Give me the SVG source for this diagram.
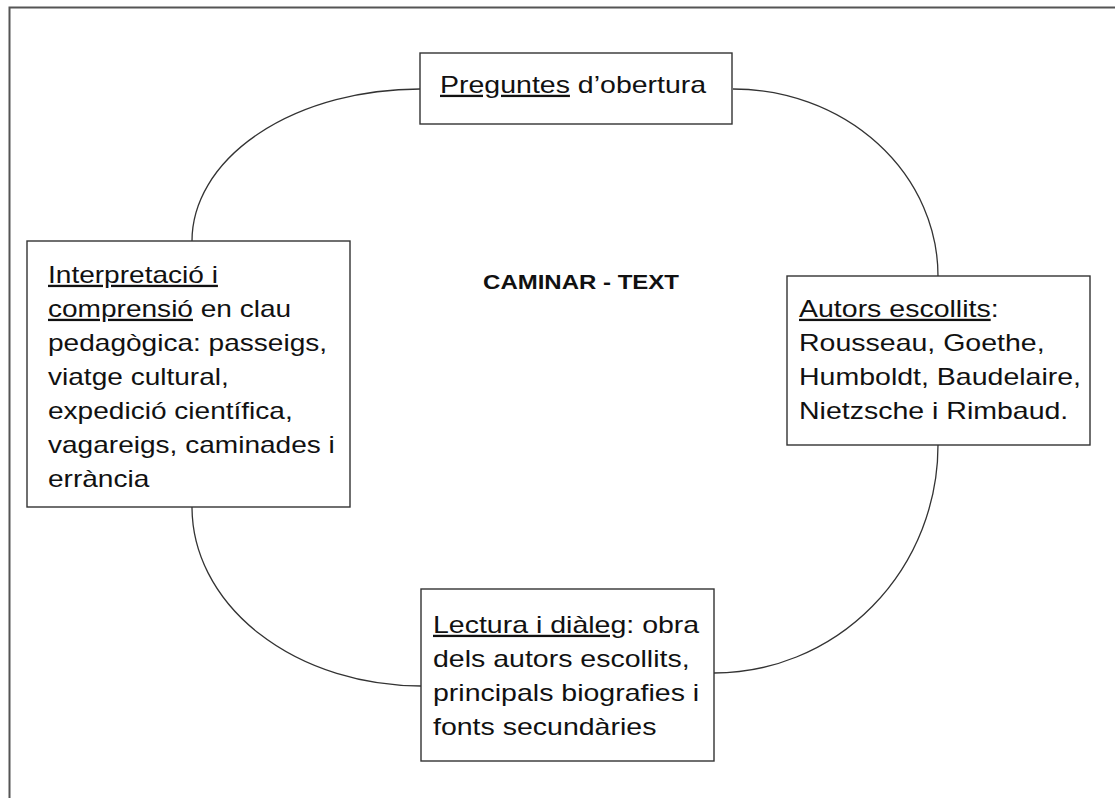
<svg xmlns="http://www.w3.org/2000/svg" width="1115" height="798" viewBox="0 0 1115 798">
<style>
.bg{fill:#fff}
.frame{fill:none;stroke:#555;stroke-width:2}
.box{fill:#fff;stroke:#333;stroke-width:1.4}
.arc{fill:none;stroke:#333;stroke-width:1.3}
.t{font-family:"Liberation Sans",Arial,sans-serif;font-size:23px;fill:#111}
.c{font-family:"Liberation Sans",Arial,sans-serif;font-size:20px;font-weight:bold;fill:#111}
.u{text-decoration:underline}
</style>
<rect class="bg" x="0" y="0" width="1115" height="798"/>
<path class="frame" d="M9.5,800 V7.5 H1117"/>
<g id="connectors">
<path class="arc" d="M192,241 A228,152 0 0 1 420,89"/>
<path class="arc" d="M733,89 A205,187 0 0 1 938,276"/>
<path class="arc" d="M938,445 A224,228 0 0 1 714,673"/>
<path class="arc" d="M192,507 A229,179 0 0 0 421,686"/>
</g>
<g id="node-preguntes">
<rect class="box" x="420" y="53" width="312" height="71"/>
<text class="t" transform="translate(440,93) scale(1.24,1)"><tspan class="u">Preguntes</tspan> d’obertura</text>
</g>
<g id="node-interpretacio">
<rect class="box" x="27" y="241" width="323" height="266"/>
<text class="t" transform="translate(48,283) scale(1.22,1)">
<tspan x="0" y="0" class="u">Interpretació i</tspan>
<tspan x="0" y="34"><tspan class="u">comprensió</tspan> en clau</tspan>
<tspan x="0" y="68">pedagògica: passeigs,</tspan>
<tspan x="0" y="102">viatge cultural,</tspan>
<tspan x="0" y="136">expedició científica,</tspan>
<tspan x="0" y="170">vagareigs, caminades i</tspan>
<tspan x="0" y="204">errància</tspan>
</text>
</g>
<g id="node-autors">
<rect class="box" x="787" y="276" width="303" height="169"/>
<text class="t" transform="translate(799,317) scale(1.24,1)">
<tspan x="0" y="0"><tspan class="u">Autors escollits</tspan>:</tspan>
<tspan x="0" y="34">Rousseau, Goethe,</tspan>
<tspan x="0" y="68">Humboldt, Baudelaire,</tspan>
<tspan x="0" y="102">Nietzsche i Rimbaud.</tspan>
</text>
</g>
<g id="node-lectura">
<rect class="box" x="421" y="589" width="293" height="172"/>
<text class="t" transform="translate(433,633) scale(1.24,1)">
<tspan x="0" y="0"><tspan class="u">Lectura i diàleg</tspan>: obra</tspan>
<tspan x="0" y="34">dels autors escollits,</tspan>
<tspan x="0" y="68">principals biografies i</tspan>
<tspan x="0" y="102">fonts secundàries</tspan>
</text>
</g>
<g id="node-center">
<text class="c" text-anchor="middle" transform="translate(581,289) scale(1.2,1)">CAMINAR - TEXT</text>
</g>
</svg>
